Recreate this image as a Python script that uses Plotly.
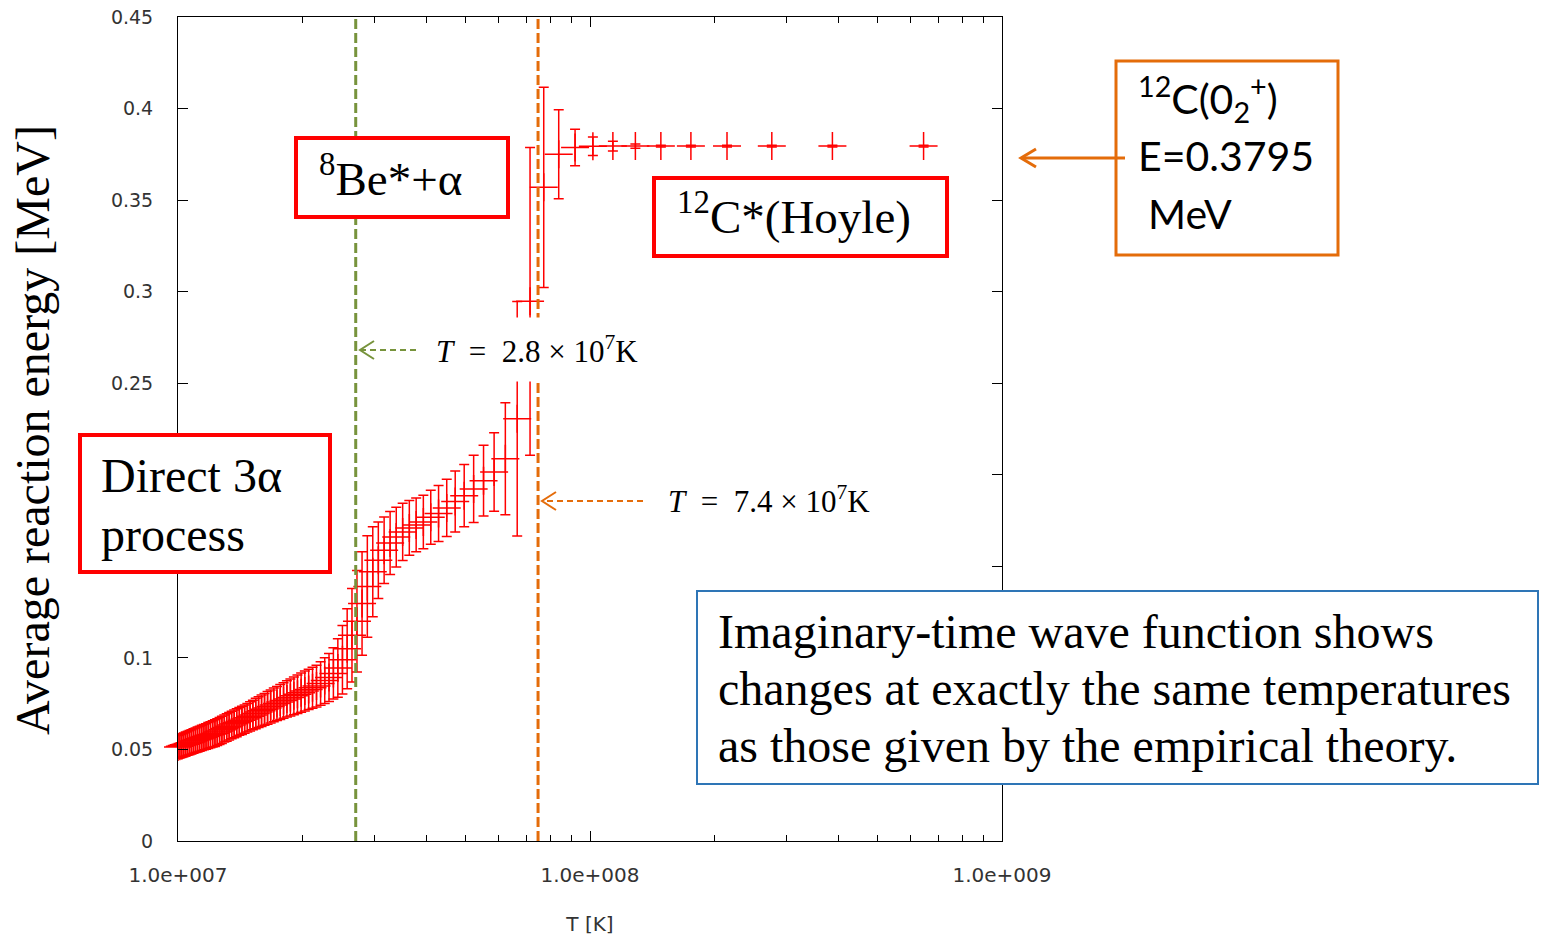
import plotly.graph_objects as go

# ---------------- data ----------------
# Temperature of each point, in units of 1e7 K
T_1e7 = [1.000, 1.0105, 1.0211, 1.0321, 1.0433, 1.0546, 1.0663, 1.0782, 1.0904, 1.1029,
         1.1156, 1.1287, 1.1421, 1.1557, 1.1697, 1.1841, 1.1988, 1.2139, 1.2293, 1.2452,
         1.2615, 1.2781, 1.2953, 1.3130, 1.3310, 1.3497, 1.3689, 1.3885, 1.4088, 1.4296,
         1.4512, 1.4734, 1.4961, 1.5198, 1.5442, 1.5691, 1.5952, 1.6221, 1.6496, 1.6784,
         1.7079, 1.7388, 1.7709, 1.8038, 1.8382, 1.8741, 1.9110, 1.9497, 1.9900, 2.0317,
         2.0756, 2.1209, 2.1687, 2.2188, 2.2707, 2.3256, 2.3832, 2.4432, 2.5069, 2.5740,
         2.6441, 2.7189, 2.7972, 2.8810, 2.9700, 3.0637, 3.1646, 3.2723, 3.3864, 3.5100,
         3.6430, 3.7850, 3.9401, 4.1068, 4.2900, 4.4903, 4.7081, 4.9505, 5.2192, 5.5157,
         5.8514, 6.2305, 6.6578, 7.1531, 7.7220, 8.3963, 9.1996, 10.163, 11.364, 12.887,
         14.859, 17.575, 21.505, 27.624, 38.760, 64.516]

# Average reaction energy [MeV]
E_MeV = [0.0513, 0.0517, 0.0521, 0.0525, 0.0529, 0.0533, 0.0537, 0.0541, 0.0546, 0.0550,
         0.0554, 0.0558, 0.0563, 0.0567, 0.0571, 0.0576, 0.0580, 0.0585, 0.0589,
         0.0595, 0.0601, 0.0607, 0.0614, 0.0620, 0.0627, 0.0633, 0.0640, 0.0646, 0.0653,
         0.0659, 0.0666,
         0.0673, 0.0681, 0.0688, 0.0696, 0.0704, 0.0711, 0.0719, 0.0727, 0.0735, 0.0743,
         0.0751, 0.0759,
         0.0767, 0.0776, 0.0784, 0.0793, 0.0801, 0.0810, 0.0819, 0.0828, 0.0837, 0.0846,
         0.0860, 0.0876, 0.0893, 0.0915, 0.0945, 0.0990, 0.1050, 0.1124,
         0.1200, 0.1297, 0.1390, 0.1470, 0.1533, 0.1588, 0.1628, 0.1660, 0.1688, 0.1710,
         0.1726,
         0.1742, 0.1768, 0.1788, 0.1819, 0.1854, 0.1886, 0.1923, 0.1968, 0.2015, 0.2088,
         0.2306,
         0.2947, 0.3570, 0.3750, 0.3787, 0.3794, 0.3795, 0.3795, 0.3795, 0.3795, 0.3795,
         0.3795, 0.3795, 0.3795]

# Error bars (half-length) [MeV]
E_err = [0.0063, 0.0063, 0.0064, 0.0064, 0.0065, 0.0065, 0.0066, 0.0066, 0.0067, 0.0067,
         0.0068, 0.0068, 0.0069, 0.0069, 0.0070, 0.0071, 0.0071, 0.0072, 0.0073,
         0.0073, 0.0074, 0.0074, 0.0074, 0.0075, 0.0075, 0.0075, 0.0076, 0.0076, 0.0076,
         0.0077, 0.0077,
         0.0078, 0.0080, 0.0081, 0.0083, 0.0084, 0.0086, 0.0087, 0.0089, 0.0090, 0.0092,
         0.0093, 0.0095,
         0.0097, 0.0099, 0.0101, 0.0103, 0.0105, 0.0107, 0.0109, 0.0110, 0.0112, 0.0114,
         0.0119, 0.0125, 0.0131, 0.0140, 0.0160, 0.0187, 0.0218, 0.0255,
         0.0277, 0.0282, 0.0277, 0.0246, 0.0209, 0.0182, 0.0172, 0.0163, 0.0156, 0.0150,
         0.0147,
         0.0146, 0.0147, 0.0153, 0.0156, 0.0166, 0.0170, 0.0184, 0.0193, 0.0214, 0.0306,
         0.0640,
         0.0840, 0.0547, 0.0243, 0.0100, 0.0050, 0.0027, 0.0012, 0.0005, 0.0005, 0.0005,
         0.0005, 0.0005, 0.0005]

T_green_K = 2.7e7      # vertical dashed line (8Be*+alpha threshold)
T_orange_K = 7.48e7    # vertical dashed line (Hoyle threshold)
Y_RANGE = [0, 0.45]
Y_TICKS = [0, 0.05, 0.1, 0.15, 0.2, 0.25, 0.3, 0.35, 0.4, 0.45]
# 0.15 and 0.2 are hidden behind the "Direct 3α process" box in the original
Y_TICK_TEXT = ["0", "0.05", "0.1", "", "", "0.25", "0.3", "0.35", "0.4", "0.45"]
X_MAJOR = [1e7, 1e8, 1e9]
X_MAJOR_TEXT = ["1.0e+007", "1.0e+008", "1.0e+009"]
X_MINOR = [2e7, 3e7, 4e7, 5e7, 6e7, 7e7, 8e7, 9e7, 2e8, 3e8, 4e8, 5e8, 6e8, 7e8, 8e8, 9e8]

# ---------------- layout helpers (pixel -> paper) ----------------
W, H = 1542, 936
PL, PR, PT, PB = 178, 1002, 17, 841


def px(x):
    return (x - PL) / (PR - PL)


def py(y):
    return (PB - y) / (PB - PT)


RED = "#ff0000"
GREEN = "#77933C"
ORANGE = "#E46C0A"
BLUE = "#2E75B6"
SERIF = "Liberation Serif"
SANS = "DejaVu Sans"

fig = go.Figure()

fig.add_trace(go.Scatter(
    x=[v * 1e7 for v in T_1e7], y=E_MeV, mode="markers",
    marker=dict(symbol="cross-thin", size=20, color=RED, line=dict(color=RED, width=1.5)),
    error_y=dict(type="data", array=E_err, visible=True, color=RED, thickness=1.5, width=5),
    cliponaxis=False, showlegend=False, hoverinfo="x+y"))

fig.add_trace(go.Scatter(x=[T_green_K, T_green_K], y=Y_RANGE, mode="lines",
                         line=dict(color=GREEN, width=3, dash="10px,4px"), showlegend=False))
fig.add_trace(go.Scatter(x=[T_orange_K, T_orange_K], y=Y_RANGE, mode="lines",
                         line=dict(color=ORANGE, width=3, dash="10px,4px"), showlegend=False))

axis_common = dict(showline=True, linecolor="black", linewidth=1, mirror="ticks",
                   ticks="inside", ticklen=10, tickcolor="black", tickwidth=1,
                   showgrid=False, zeroline=False, automargin=False)

fig.update_layout(
    width=W, height=H,
    margin=dict(l=PL, r=W - PR, t=PT, b=H - PB, pad=0),
    paper_bgcolor="white", plot_bgcolor="white",
    xaxis=dict(type="log", range=[7, 9], tickmode="array", tickvals=X_MAJOR,
               ticktext=X_MAJOR_TEXT, tickfont=dict(family=SANS, size=20, color="#333333"),
               ticklabelstandoff=16,
               minor=dict(tickmode="array", tickvals=X_MINOR, ticks="inside", ticklen=6,
                          tickcolor="black", showgrid=False),
               title=dict(text="T [K]", font=dict(family=SANS, size=20, color="#333333"),
                          standoff=30),
               **axis_common),
    yaxis=dict(range=Y_RANGE, tickmode="array", tickvals=Y_TICKS, ticktext=Y_TICK_TEXT,
               tickfont=dict(family=SANS, size=19, color="#333333"),
               ticklabelstandoff=20, **axis_common),
)

shapes = []


def box(x0, y0, x1, y1, color, lw):
    shapes.append(dict(type="rect", xref="paper", yref="paper",
                       x0=px(x0), x1=px(x1), y0=py(y1), y1=py(y0),
                       line=dict(color=color, width=lw), fillcolor="white", layer="above"))


box(296, 138, 508, 217, RED, 4)
box(654, 178, 947, 256, RED, 4)
box(80, 435, 330, 572, RED, 4)
box(697, 591, 1538, 784, BLUE, 2)
box(1116, 61, 1338, 255, ORANGE, 3)


def seg(x0, y0, x1, y1, color, lw, dash="solid"):
    shapes.append(dict(type="line", xref="paper", yref="paper",
                       x0=px(x0), y0=py(y0), x1=px(x1), y1=py(y1),
                       line=dict(color=color, width=lw, dash=dash), layer="above"))


def chevron(xt, yt, dx, dy, color, lw):
    path = "M {} {} L {} {} L {} {}".format(px(xt + dx), py(yt - dy), px(xt), py(yt),
                                           px(xt + dx), py(yt + dy))
    shapes.append(dict(type="path", xref="paper", yref="paper", path=path,
                       line=dict(color=color, width=lw), layer="above"))


# dashed pointers to the threshold lines
seg(416, 350, 361, 350, GREEN, 2, "6px,4px")
chevron(360, 350, 14, 9, GREEN, 2)
seg(643, 501, 543, 501, ORANGE, 2, "6px,4px")
chevron(542, 501, 14, 9, ORANGE, 2)
# solid arrow from the orange box
seg(1125, 158, 1022, 158, ORANGE, 3)
chevron(1021, 158, 15, 9, ORANGE, 3)

fig.update_layout(shapes=shapes)

ann = []


def text(x, y, s, size, family=SERIF, color="black", **kw):
    d = dict(xref="paper", yref="paper", x=px(x), y=py(y), text=s, showarrow=False,
             xanchor="left", yanchor="middle", align="left",
             font=dict(family=family, size=size, color=color))
    d.update(kw)
    ann.append(d)


NB = "&nbsp;"
text(317, 175, "<sup>8</sup>Be*+α", 47)
text(675, 213, "<sup>12</sup>C*(Hoyle)", 47)
text(99, 475, "Direct 3α", 48)
text(99, 534, "process", 48)
text(716, 631, "Imaginary-time wave function shows", 48)
text(716, 688, "changes at exactly the same temperatures", 48)
text(716, 745, "as those given by the empirical theory.", 48)
text(1136, 99, "<sup>12</sup>C(0<sub>2</sub><sup>+</sup>)", 41, family="Lato")
text(1136, 156, "E=0.3795", 41, family="Lato")
text(1146, 213, "MeV", 41, family="Lato")
text(423, 349, "<i>T</i>" + NB * 2 + "=" + NB * 2 + "2.8 × 10<sup>7</sup>K", 31,
     bgcolor="white", borderpad=12)
text(666, 499, "<i>T</i>" + NB * 2 + "=" + NB * 2 + "7.4 × 10<sup>7</sup>K", 31)
# y-axis title
ann.append(dict(xref="paper", yref="paper", x=px(33), y=py(430), showarrow=False,
                text="Average reaction energy [MeV]", textangle=-90,
                xanchor="center", yanchor="middle",
                font=dict(family=SERIF, size=48, color="black")))

fig.update_layout(annotations=ann)

fig.write_html("out.html")
